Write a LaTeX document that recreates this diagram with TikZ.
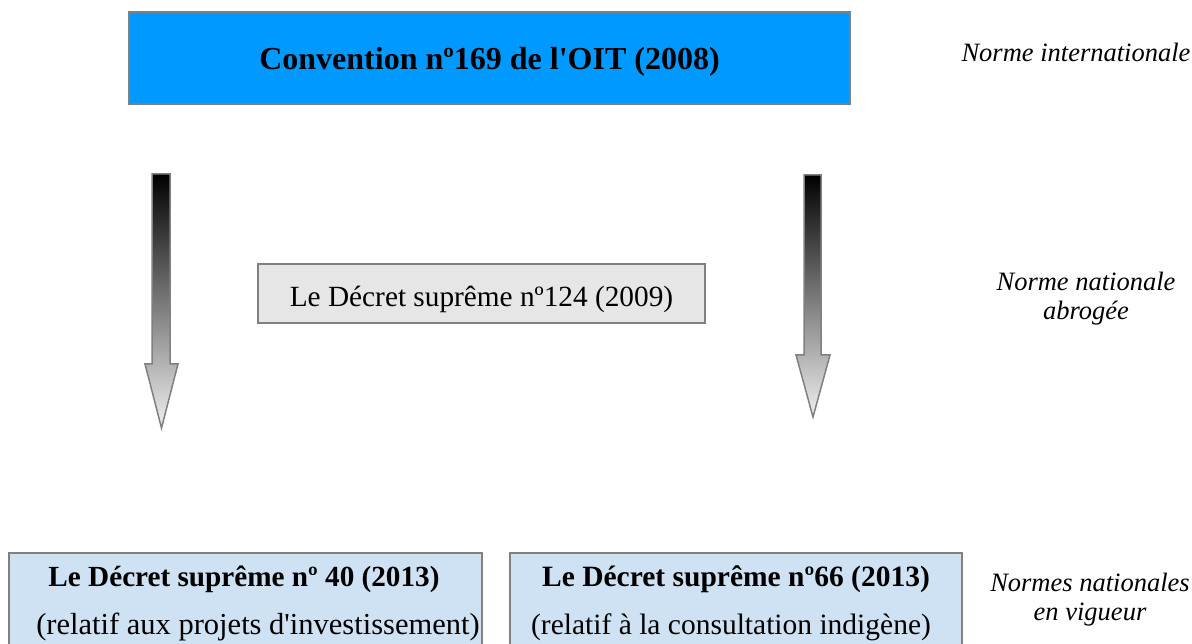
\documentclass[tikz,border=0pt]{standalone}
\usepackage{fontspec}
\setmainfont{Liberation Serif}[Ligatures=TeXOff]
\definecolor{topblue}{RGB}{0,153,255}
\definecolor{lightblue}{RGB}{207,226,243}
\definecolor{midgray}{RGB}{230,230,230}
\definecolor{edgegray}{RGB}{128,128,128}
\begin{document}
\begin{tikzpicture}[x=1pt,y=-1pt,
  boxstyle/.style={draw=edgegray, line width=1.5pt, inner sep=0pt, outer sep=0pt},
  labelstyle/.style={font=\fontsize{26.5}{29}\selectfont\itshape, align=center, inner sep=0pt},
  arrowstyle/.style={draw=edgegray, line width=1.5pt, top color=black, bottom color=black!6, shading angle=0}
]
\useasboundingbox (0,0) rectangle (1192,644);
% top box
\node[boxstyle, fill=topblue, minimum width=721pt, minimum height=92pt,
      text height=26pt, text depth=2pt,
      font=\fontsize{32}{36}\selectfont\bfseries] (oit) at (489.5,58) {Convention nº169 de l'OIT (2008)};
% middle box
\node[boxstyle, fill=midgray, minimum width=447pt, minimum height=59pt,
      text height=28pt, text depth=1pt,
      font=\fontsize{29.3}{32}\selectfont] (ds124) at (481.5,293.5) {Le Décret suprême nº124 (2009)};
% bottom boxes
\draw[boxstyle, fill=lightblue] (9,553) rectangle (482,660);
\draw[boxstyle, fill=lightblue] (510,553) rectangle (962,660);
\node[font=\fontsize{29.2}{32}\selectfont\bfseries, anchor=base, inner sep=0pt] (ds40a) at (244,586) {Le Décret suprême nº 40 (2013)};
\node[font=\fontsize{30.5}{32}\selectfont, anchor=base, inner sep=0pt] (ds40b) at (258,634) {(relatif aux projets d'investissement)};
\node[font=\fontsize{29.5}{32}\selectfont\bfseries, anchor=base, inner sep=0pt] (ds66a) at (736,586) {Le Décret suprême nº66 (2013)};
\node[font=\fontsize{29.5}{32}\selectfont, anchor=base, inner sep=0pt] (ds66b) at (731,634) {(relatif à la consultation indigène)};
% arrows
\shade[arrowstyle] (152,174) -- (170,174) -- (170,364) -- (178,364) -- (161.5,428) -- (145,364) -- (152,364) -- cycle;
\shade[arrowstyle] (804,175) -- (821,175) -- (821,355) -- (830,355) -- (813,417) -- (796,355) -- (804,355) -- cycle;
% labels
\node[labelstyle] (lab1) at (1076,52) {Norme internationale};
\node[labelstyle] (lab2) at (1086,299) {Norme nationale\\abrogée};
\node[labelstyle] (lab3) at (1090,600) {Normes nationales\\en vigueur};
\end{tikzpicture}
\end{document}
